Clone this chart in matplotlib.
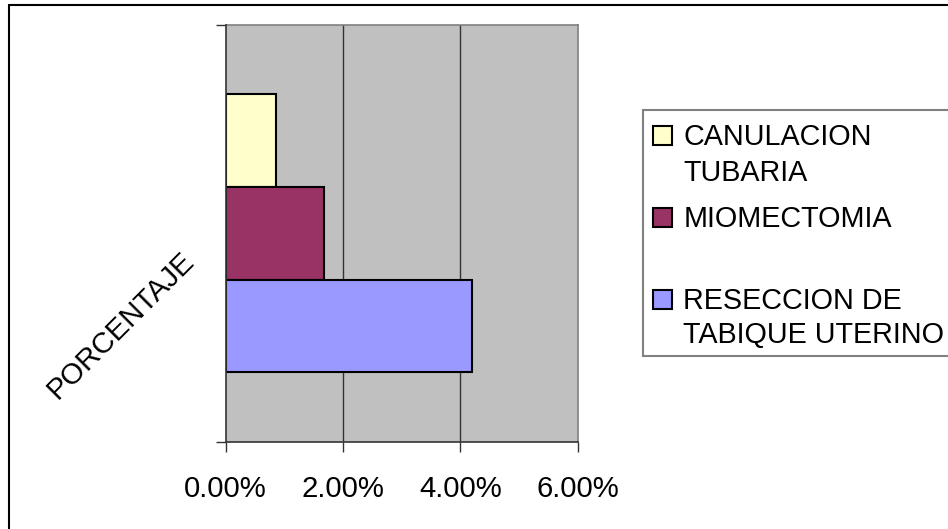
import matplotlib
matplotlib.use("Agg")
import matplotlib.pyplot as plt
from matplotlib.patches import Rectangle
from matplotlib.ticker import FuncFormatter

plt.rcParams['font.family'] = ['Liberation Sans', 'DejaVu Sans']

# Data (percent)
series_labels = ["CANULACION\nTUBARIA", "MIOMECTOMIA", "RESECCION DE\nTABIQUE UTERINO"]
series_values = [0.85, 1.67, 4.20]
series_colors = ["#FFFFCC", "#993366", "#9999FF"]
x_ticks = [0, 2, 4, 6]
axis_title = "PORCENTAJE"

W, H = 948, 529
fig = plt.figure(figsize=(W / 100, H / 100), dpi=100)

def fx(px):
    return px / W

def fy(py):
    return 1 - py / H

# Outer chart border (extends past the right and bottom edges)
fig.patches.append(Rectangle((fx(9), fy(600)), fx(1100), fy(5) - fy(600),
                             transform=fig.transFigure, fill=False,
                             edgecolor="black", linewidth=1.5))

ax = fig.add_axes([fx(225.7), fy(441.7), fx(577.7) - fx(225.7), fy(25) - fy(441.7)])
ax.set_facecolor("#C0C0C0")

# Clustered bars for one category: three bars, gap width 150%
n = len(series_values)
for i, (v, c) in enumerate(zip(series_values, series_colors)):
    ax.barh(0.75 + i + 0.5, v, height=1.0, left=0, color=c,
            edgecolor="black", linewidth=1.5, zorder=3)

ax.set_ylim(n + 1.5, 0)
ax.set_xlim(x_ticks[0], x_ticks[-1])
ax.set_xticks(x_ticks)
ax.xaxis.set_major_formatter(FuncFormatter(lambda v, p: f"{v:.2f}%"))
ax.set_yticks([0, n + 1.5])
ax.set_yticklabels([])

for xv in x_ticks[1:-1]:
    ax.axvline(xv, color="#333333", linewidth=1.0, zorder=1)

for s in ["top", "right"]:
    ax.spines[s].set_color("#808080")
    ax.spines[s].set_linewidth(1.2)
for s in ["left", "bottom"]:
    ax.spines[s].set_color("#333333")
    ax.spines[s].set_linewidth(1.2)
    ax.spines[s].set_zorder(4)

ax.tick_params(axis="x", direction="out", length=7.2, width=1.0, color="#333333",
               labelsize=21.2, pad=16.5)
ax.tick_params(axis="y", direction="out", length=7.2, width=1.0, color="#333333")

fig.text(fx(121), fy(325), axis_title, rotation=45, fontsize=21.2,
         ha="center", va="center", rotation_mode="anchor")

# Legend box
fig.patches.append(Rectangle((fx(643.3), fy(355.7)), fx(400), fy(109.7) - fy(355.7),
                             transform=fig.transFigure, fill=True, facecolor="white",
                             edgecolor="#808080", linewidth=1.5))
marker_centers = [135, 217, 299.5]
line_baselines = [[145, 180.7], [227.3], [309.3, 343.3]]
for lab, col, mc, bls in zip(series_labels, series_colors, marker_centers, line_baselines):
    fig.patches.append(Rectangle((fx(653.3), fy(mc + 9.5)), fx(19), fy(mc - 9.5) - fy(mc + 9.5),
                                 transform=fig.transFigure, facecolor=col,
                                 edgecolor="black", linewidth=1.5))
    for line, bl in zip(lab.split("\n"), bls):
        fig.text(fx(683.3), fy(bl), line, fontsize=20.7, ha="left", va="baseline")

fig.savefig("out.png", dpi=100)
